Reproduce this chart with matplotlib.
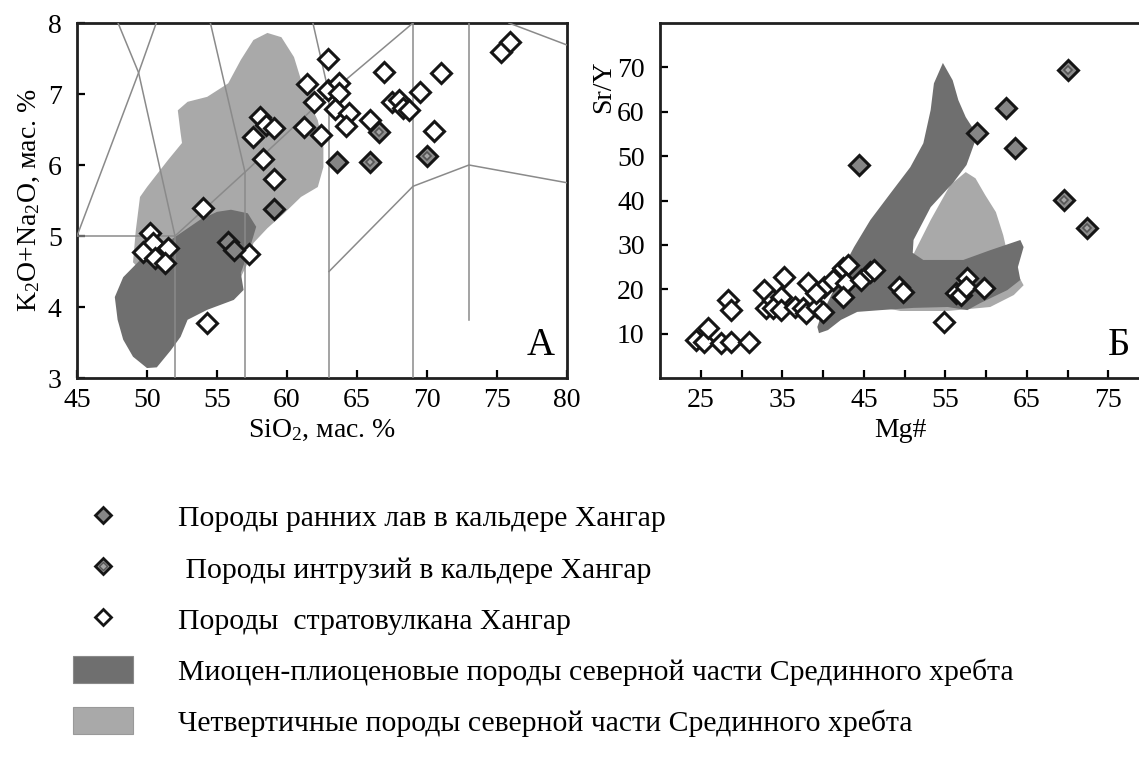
import numpy as np
import matplotlib.pyplot as plt
from matplotlib.lines import Line2D
from matplotlib.patches import Patch, Polygon

plt.rcParams['font.family'] = ['Liberation Serif', 'DejaVu Serif']
plt.rcParams['mathtext.fontset'] = 'custom'
plt.rcParams['mathtext.rm'] = 'Liberation Serif'
plt.rcParams['mathtext.it'] = 'Liberation Serif:italic'
plt.rcParams['mathtext.bf'] = 'Liberation Serif:bold'

# ---------------- panel A: TAS ----------------
# classification boundaries (SiO2, K2O+Na2O)
tas_x = [[45, 49.4, 53], [52, 49.4, 45], [45, 52], [52, 52], [52, 57, 63, 69],
         [57, 57], [57, 53], [63, 63], [63, 57.6], [69, 69],
         [63, 69, 73, 80], [73, 73], [75.85, 80]]
tas_y = [[5, 7.3, 9.3], [5, 7.3, 9.4], [5, 5], [0, 5], [5, 5.9, 7, 8],
         [0, 5.9], [5.9, 9.3], [0, 7], [7, 11.7], [0, 8],
         [4.5, 5.7, 6.0, 5.75], [3.82, 8], [8, 7.69]]

# Quaternary rocks field
quat_sio2 = [58.6, 59.6, 60.5, 61.0, 61.5, 62.2, 62.6, 62.6, 62.2, 61.0, 59.8, 58.6, 57.6,
             57.2, 56.7, 53.8, 50.2, 49.0, 49.2, 49.5, 50.0, 51.5, 52.5, 52.4, 52.2, 52.9,
             54.3, 55.8, 56.7, 57.6]
quat_alk = [7.86, 7.80, 7.52, 7.20, 6.92, 6.63, 6.25, 5.97, 5.69, 5.55, 5.32, 5.11, 4.90,
            4.62, 4.42, 4.24, 4.38, 4.63, 5.08, 5.55, 5.69, 6.07, 6.31, 6.45, 6.77, 6.89,
            6.96, 7.15, 7.48, 7.76]
# Miocene-Pliocene rocks field
mio_sio2 = [56.0, 57.2, 57.8, 57.3, 56.7, 56.9, 56.2, 54.3, 52.9, 52.4, 51.7, 50.7, 50.0,
            49.0, 48.3, 47.9, 47.7, 48.3, 49.5, 51.0, 52.4, 53.8, 55.0]
mio_alk = [5.37, 5.32, 5.13, 4.80, 4.48, 4.24, 4.10, 3.96, 3.82, 3.58, 3.39, 3.15, 3.14,
           3.30, 3.54, 3.82, 4.14, 4.42, 4.66, 4.85, 5.04, 5.23, 5.34]

strato_sio2 = [50.2, 50.4, 49.7, 50.6, 51.5, 51.3, 54.0, 54.3, 57.3, 57.6, 58.1, 58.5, 59.1,
               58.3, 59.1, 62.9, 61.4, 61.9, 62.9, 63.7, 63.7, 63.4, 64.4, 64.2, 61.2, 62.4,
               65.9, 66.9, 67.5, 68.0, 68.3, 68.7, 69.5, 71.0, 70.5, 75.3, 75.9]
strato_alk = [5.04, 4.90, 4.77, 4.69, 4.83, 4.62, 5.39, 3.77, 4.75, 6.39, 6.68, 6.56, 6.52,
              6.08, 5.80, 7.49, 7.14, 6.89, 7.06, 7.15, 7.01, 6.79, 6.73, 6.55, 6.54, 6.42,
              6.63, 7.31, 6.89, 6.92, 6.80, 6.77, 7.03, 7.30, 6.48, 7.59, 7.73]
lava_sio2 = [55.8, 56.2, 59.1, 63.6]
lava_alk = [4.92, 4.80, 5.38, 6.04]
intr_sio2 = [65.9, 66.6, 70.0]
intr_alk = [6.04, 6.46, 6.13]

# ---------------- panel Б: Sr/Y vs Mg# ----------------
quat_mg = [57.5, 58.7, 59.9, 61.2, 62.1, 62.8, 63.6, 64.6, 63.4, 60.5, 55.3, 49.5, 46.5,
           49.5, 53.2, 55.6]
quat_sry = [46.4, 45.0, 41.2, 37.4, 32.2, 26.6, 24.3, 20.9, 18.7, 16.0, 15.1, 15.1, 16.2,
            22.1, 35.6, 43.5]
mio_mg = [54.7, 55.9, 56.6, 57.5, 58.3, 58.7, 57.6, 56.0, 53.2, 51.1, 51.0, 52.3, 57.2,
          60.5, 64.2, 64.6, 63.9, 64.2, 62.6, 59.3, 57.7, 55.3, 51.1, 47.1, 44.2, 42.2,
          40.6, 39.5, 39.3, 39.7, 41.3, 42.5, 43.8, 45.8, 48.3, 50.7, 52.3, 53.2, 53.6]
mio_sry = [71.0, 67.1, 62.6, 58.8, 56.5, 53.6, 48.0, 44.1, 38.5, 31.1, 28.2, 26.6, 26.6,
           28.8, 31.1, 29.5, 25.0, 22.1, 19.8, 16.9, 15.3, 16.0, 15.8, 15.3, 14.9, 13.1,
           10.8, 10.1, 11.5, 13.7, 19.8, 25.0, 29.5, 35.6, 41.7, 47.5, 52.9, 60.4, 66.4]

strato_mg = [24.4, 25.4, 25.9, 27.5, 28.7, 28.4, 28.7, 30.9, 32.7, 33.0, 33.9, 34.8, 35.2,
             33.8, 34.8, 36.6, 37.5, 37.9, 38.2, 39.3, 40.0, 40.1, 39.1, 41.2, 42.4, 43.0,
             42.8, 42.5, 44.6, 45.8, 46.2, 49.3, 49.8, 54.8, 56.3, 56.9, 57.7, 57.5, 59.7]
strato_sry = [8.6, 8.1, 11.3, 7.9, 8.1, 17.6, 15.3, 8.1, 19.8, 15.8, 17.6, 18.2, 22.7,
              15.8, 15.3, 16.0, 15.8, 14.6, 21.4, 16.0, 14.9, 20.5, 19.1, 22.1, 24.8, 25.5,
              21.4, 18.2, 22.1, 23.9, 24.3, 20.5, 19.4, 12.6, 19.1, 18.7, 22.5, 20.5, 20.3]
lava_mg = [44.4, 58.9, 62.5, 63.6]
lava_sry = [48.0, 55.2, 60.8, 51.8]
intr_mg = [70.1, 69.5, 72.4]
intr_sry = [69.4, 40.1, 33.8]

legend_labels = ["Породы ранних лав в кальдере Хангар",
                 " Породы интрузий в кальдере Хангар",
                 "Породы  стратовулкана Хангар",
                 "Миоцен-плиоценовые породы северной части Срединного хребта",
                 "Четвертичные породы северной части Срединного хребта"]

DARK = '#6f6f6f'
LIGHT = '#a9a9a9'
LINE = '#8a8a8a'


def draw_points(ax, sx, sy, lx, ly, ix, iy, ms=9.8):
	ax.plot(sx, sy, 'D', ms=ms, mfc='white', mec='#151515', mew=2.2, ls='none', zorder=5)
	ax.plot(lx, ly, 'D', ms=ms, mfc='#858585', mec='#151515', mew=2.2, ls='none', zorder=6)
	ax.plot(ix, iy, 'D', ms=ms, mfc='#8c8c8c', mec='#151515', mew=2.2, ls='none', zorder=6)
	ax.plot(ix, iy, 'D', ms=ms * 0.45, mfc='#a5a5a5', mec='#555555', mew=1.2, ls='none', zorder=7)


def style_axes(ax):
	for s in ax.spines.values():
		s.set_linewidth(2.0)
		s.set_color('#202020')
	ax.tick_params(which='both', direction='in', length=6, width=1.6, labelsize=20,
				   top=False, right=False)
	ax.tick_params(axis='y', pad=11)
	ax.tick_params(axis='x', pad=7)


fig = plt.figure(figsize=(11.39, 7.64), dpi=100)
ax1 = fig.add_axes([77 / 1139, 1 - 378 / 764, 490 / 1139, 355 / 764])
ax2 = fig.add_axes([660 / 1139, 1 - 378 / 764, 481 / 1139, 355 / 764])

# panel A
ax1.add_patch(Polygon(np.column_stack([quat_sio2, quat_alk]), closed=True, fc=LIGHT, ec='none', zorder=1))
ax1.add_patch(Polygon(np.column_stack([mio_sio2, mio_alk]), closed=True, fc=DARK, ec='none', zorder=2))
for xs, ys in zip(tas_x, tas_y):
	ax1.plot(xs, ys, color=LINE, lw=1.1, zorder=3)
draw_points(ax1, strato_sio2, strato_alk, lava_sio2, lava_alk, intr_sio2, intr_alk)
ax1.set_xlim(45, 80)
ax1.set_ylim(3, 8)
ax1.set_xticks(range(45, 81, 5))
ax1.set_yticks(range(3, 9))
style_axes(ax1)
ax1.set_xlabel('SiO$_2$, мас. %', fontsize=20, labelpad=4)
ax1.set_ylabel('K$_2$O+Na$_2$O, мас. %', fontsize=20, labelpad=4)
ax1.text(0.975, 0.04, 'А', transform=ax1.transAxes, ha='right', va='bottom', fontsize=28)

# panel Б
ax2.add_patch(Polygon(np.column_stack([quat_mg, quat_sry]), closed=True, fc=LIGHT, ec='none', zorder=1))
ax2.add_patch(Polygon(np.column_stack([mio_mg, mio_sry]), closed=True, fc=DARK, ec='none', zorder=2))
draw_points(ax2, strato_mg, strato_sry, lava_mg, lava_sry, intr_mg, intr_sry)
ax2.set_xlim(20, 79)
ax2.set_ylim(0, 80)
ax2.set_xticks(range(25, 76, 10))
ax2.set_xticks(range(30, 71, 10), minor=True)
ax2.set_yticks(range(10, 71, 10))
style_axes(ax2)
ax2.set_xlabel('Mg#', fontsize=20, labelpad=4)
ax2.set_ylabel('Sr/Y', fontsize=20)
ax2.yaxis.set_label_coords(-0.092, 0.82)
ax2.text(0.977, 0.04, 'Б', transform=ax2.transAxes, ha='right', va='bottom', fontsize=28)

# legend
h_lava = Line2D([], [], marker='D', ms=8.4, mfc='#858585', mec='#151515', mew=2, ls='none')
h_intr = (Line2D([], [], marker='D', ms=8.4, mfc='#8c8c8c', mec='#151515', mew=2, ls='none'),
		  Line2D([], [], marker='D', ms=3.8, mfc='#a5a5a5', mec='#555555', mew=1, ls='none'))
h_strato = Line2D([], [], marker='D', ms=8.4, mfc='white', mec='#151515', mew=2, ls='none')
h_mio = Patch(fc=DARK, ec='#8a8a8a', lw=0.8)
h_quat = Patch(fc=LIGHT, ec='#999999', lw=0.8)
fig.legend([h_lava, h_intr, h_strato, h_mio, h_quat], legend_labels,
		   loc='upper left', bbox_to_anchor=(73 / 1139, 1 - 503 / 764),
		   frameon=False, fontsize=21.4, borderpad=0, borderaxespad=0,
		   handlelength=2.02, handleheight=1.0, handletextpad=1.52, labelspacing=0.725)

fig.savefig('out.png', dpi=100)
